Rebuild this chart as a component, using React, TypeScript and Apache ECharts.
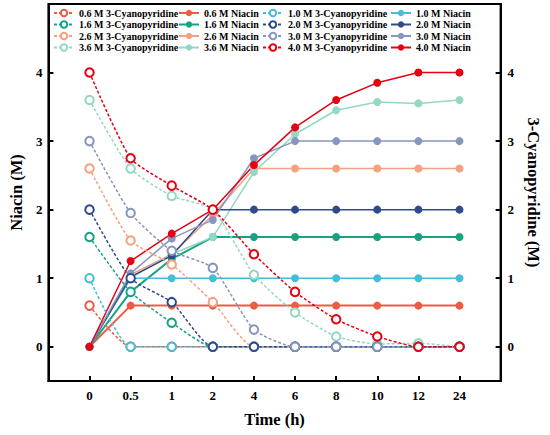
import React, { useEffect, useRef } from "react";
import * as echarts from "echarts";

const times = ["0", "0.5", "1", "2", "4", "6", "8", "10", "12", "24"];

const niacin06 = [0, 0.6, 0.6, 0.6, 0.6, 0.6, 0.6, 0.6, 0.6, 0.6];
const niacin10 = [0, 1.0, 1.0, 1.0, 1.0, 1.0, 1.0, 1.0, 1.0, 1.0];
const niacin16 = [0, 0.8, 1.28, 1.6, 1.6, 1.6, 1.6, 1.6, 1.6, 1.6];
const niacin20 = [0, 1.02, 1.33, 2.0, 2.0, 2.0, 2.0, 2.0, 2.0, 2.0];
const niacin26 = [0, 1.05, 1.35, 1.92, 2.6, 2.6, 2.6, 2.6, 2.6, 2.6];
const niacin30 = [0, 1.07, 1.58, 1.85, 2.75, 3.0, 3.0, 3.0, 3.0, 3.0];
const niacin36 = [0, 1.0, 1.35, 1.6, 2.55, 3.1, 3.45, 3.57, 3.55, 3.6];
const niacin40 = [0, 1.25, 1.65, 2.0, 2.65, 3.2, 3.6, 3.85, 4.0, 4.0];

const cyano06 = [0.6, 0, 0, 0, 0, 0, 0, 0, 0, 0];
const cyano10 = [1.0, 0, 0, 0, 0, 0, 0, 0, 0, 0];
const cyano16 = [1.6, 0.8, 0.35, 0, 0, 0, 0, 0, 0, 0];
const cyano20 = [2.0, 1.0, 0.65, 0, 0, 0, 0, 0, 0, 0];
const cyano26 = [2.6, 1.55, 1.2, 0.65, 0, 0, 0, 0, 0, 0];
const cyano30 = [3.0, 1.95, 1.4, 1.15, 0.25, 0, 0, 0, 0, 0];
const cyano36 = [3.6, 2.6, 2.2, 2.0, 1.05, 0.5, 0.15, 0.04, 0.05, 0];
const cyano40 = [4.0, 2.75, 2.35, 2.0, 1.35, 0.8, 0.4, 0.15, 0, 0];

const yTicks = [0, 1, 2, 3, 4];

const colors: Record<string, string> = {
  "0.6": "#EE5A43",
  "1.0": "#45BCD8",
  "1.6": "#16A383",
  "2.0": "#2F4A8C",
  "2.6": "#F5A07E",
  "3.0": "#8796BE",
  "3.6": "#94D7C2",
  "4.0": "#E50012",
};

const niacinSets: [string, number[]][] = [
  ["0.6", niacin06],
  ["1.6", niacin16],
  ["2.6", niacin26],
  ["3.6", niacin36],
  ["1.0", niacin10],
  ["2.0", niacin20],
  ["3.0", niacin30],
  ["4.0", niacin40],
];
const cyanoSets: [string, number[]][] = [
  ["0.6", cyano06],
  ["1.6", cyano16],
  ["2.6", cyano26],
  ["3.6", cyano36],
  ["1.0", cyano10],
  ["2.0", cyano20],
  ["3.0", cyano30],
  ["4.0", cyano40],
];

const FONT = "Liberation Serif";

export default function App() {
  const ref = useRef<HTMLDivElement>(null);
  useEffect(() => {
    if (!ref.current) return;
    const chart = echarts.init(ref.current, undefined, { renderer: "svg" });
    const toData = (vals: number[]) => vals.map((v, i) => [i, v]);
    const cyName = (c: string) => `${c} M 3-Cyanopyridine`;
    const niName = (c: string) => `${c} M Niacin`;

    const series: any[] = [];
    cyanoSets.forEach(([c, vals]) => {
      series.push({
        name: cyName(c),
        type: "line",
        yAxisIndex: 1,
        data: toData(vals),
        symbol: "emptyCircle",
        symbolSize: 8.5,
        smooth: 0.2,
        lineStyle: { color: colors[c], width: 1.5, type: [3, 2] },
        itemStyle: { color: colors[c], borderColor: colors[c], borderWidth: 1.6 },
        z: 3,
      });
    });
    niacinSets.forEach(([c, vals]) => {
      series.push({
        name: niName(c),
        type: "line",
        yAxisIndex: 0,
        data: toData(vals),
        symbol: "circle",
        symbolSize: 8,
        lineStyle: { color: colors[c], width: c === "0.6" || c === "1.6" ? 2 : 1.5 },
        itemStyle: { color: colors[c] },
        z: 2,
      });
    });

    const legendBase = {
      orient: "vertical",
      itemWidth: 20,
      itemHeight: 8,
      itemGap: 1.5,
      top: 8,
      padding: 0,
      textStyle: { fontFamily: FONT, fontWeight: "bold", fontSize: 10, color: "#000" },
    };
    const axisLabelStyle = { fontFamily: FONT, fontWeight: "bold", fontSize: 13, color: "#000" };
    const nameStyle = { fontFamily: FONT, fontWeight: "bold", fontSize: 16.5, color: "#000" };
    const lineSt = { color: "#000", width: 2 };

    chart.setOption({
      animation: false,
      backgroundColor: "#fff",
      grid: { left: 41, right: 40, top: 4, bottom: 54, show: true, borderColor: "#000", borderWidth: 2 },
      legend: [
        { ...legendBase, left: 53, data: ["0.6", "1.6", "2.6", "3.6"].map(cyName) },
        { ...legendBase, left: 178, data: ["0.6", "1.6", "2.6", "3.6"].map(niName) },
        { ...legendBase, left: 262, data: ["1.0", "2.0", "3.0", "4.0"].map(cyName) },
        { ...legendBase, left: 390, data: ["1.0", "2.0", "3.0", "4.0"].map(niName) },
      ],
      xAxis: {
        type: "value",
        min: -1,
        max: times.length,
        name: "Time (h)",
        nameLocation: "middle",
        nameGap: 30,
        nameTextStyle: nameStyle,
        axisLine: { show: true, onZero: false, lineStyle: lineSt },
        axisTick: {
          show: true,
          inside: true,
          length: 5,
          lineStyle: lineSt,
          customValues: times.map((_, i) => i),
        },
        axisLabel: {
          ...axisLabelStyle,
          margin: 8,
          customValues: times.map((_, i) => i),
          formatter: (v: number) => times[Math.round(v)] ?? "",
        },
        splitLine: { show: false },
      },
      yAxis: [
        {
          type: "value",
          position: "left",
          min: -0.5,
          max: 5,
          name: "Niacin (M)",
          nameLocation: "middle",
          nameGap: 20,
          nameTextStyle: nameStyle,
          axisLine: { show: true, onZero: false, lineStyle: lineSt },
          axisTick: { show: true, inside: true, length: 5, lineStyle: lineSt, customValues: yTicks },
          axisLabel: { ...axisLabelStyle, margin: 6, customValues: yTicks },
          splitLine: { show: false },
        },
        {
          type: "value",
          position: "right",
          min: -0.5,
          max: 5,
          name: "3-Cyanopyridine (M)",
          nameLocation: "middle",
          nameGap: 22,
          nameRotate: -90,
          nameTextStyle: nameStyle,
          axisLine: { show: true, onZero: false, lineStyle: lineSt },
          axisTick: { show: true, inside: true, length: 5, lineStyle: lineSt, customValues: yTicks },
          axisLabel: { ...axisLabelStyle, margin: 7, customValues: yTicks },
          splitLine: { show: false },
        },
      ],
      series,
    });
    return () => chart.dispose();
  }, []);
  return <div ref={ref} style={{ position: "absolute", left: 0, top: 0, width: 550, height: 435 }} />;
}
